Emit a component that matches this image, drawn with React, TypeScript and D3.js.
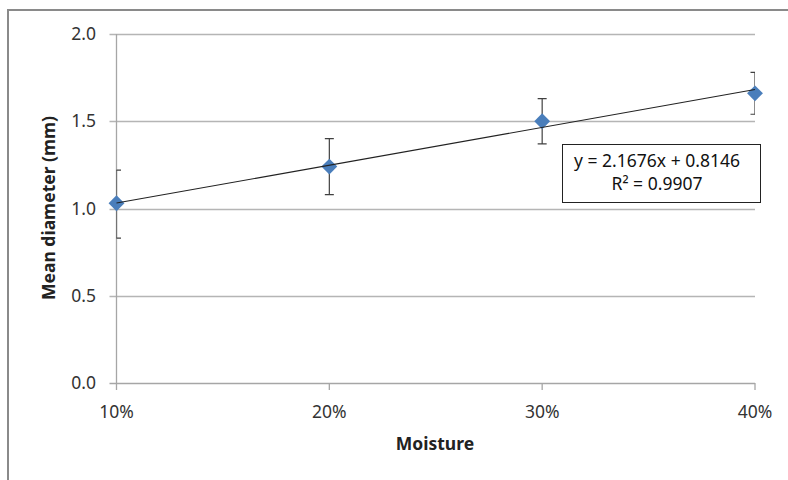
import React, { useEffect, useRef } from 'react';
import * as d3 from 'd3';

const MOISTURE = [0.1, 0.2, 0.3, 0.4];
const X_LABELS = ['10%', '20%', '30%', '40%'];
const MEAN_DIAMETER = [1.03, 1.24, 1.5, 1.66];
const ERR_PLUS = [0.19, 0.16, 0.13, 0.12];
const ERR_MINUS = [0.2, 0.16, 0.13, 0.12];
const Y_TICKS = [0, 0.5, 1.0, 1.5, 2.0];
const TREND_SLOPE = 2.1676;
const TREND_INTERCEPT = 0.8146;
const EQ_LINES = ['y = 2.1676x + 0.8146', 'R² = 0.9907'];

export default function App() {
    const svgRef = useRef<SVGSVGElement>(null);

    useEffect(() => {
        if (!svgRef.current) return;
        const svg = d3.select(svgRef.current);
        svg.selectAll('*').remove();

        const width = 788;
        const height = 480;
        const left = 116.5;
        const right = 755;
        const top = 34;
        const bottom = 383;
        const font = '"Noto Sans", sans-serif';

        const x = d3.scaleLinear().domain([0.1, 0.4]).range([left, right]);
        const y = d3.scaleLinear().domain([0, 2]).range([bottom, top]);

        svg.attr('viewBox', `0 0 ${width} ${height}`);

        svg.append('rect')
            .attr('width', width).attr('height', height)
            .attr('fill', '#fff');

        // outer chart frame (runs off the right and bottom)
        svg.append('rect')
            .attr('x', 8).attr('y', 10)
            .attr('width', 800).attr('height', 500)
            .attr('fill', 'none')
            .attr('stroke', '#8a8a8a')
            .attr('stroke-width', 2);

        svg.append('clipPath').attr('id', 'plot-clip')
            .append('rect')
            .attr('x', left).attr('y', top - 1)
            .attr('width', right - left).attr('height', bottom - top + 2);

        // gridlines + y ticks
        svg.append('g').selectAll('line')
            .data(Y_TICKS)
            .join('line')
            .attr('x1', left - 7).attr('x2', right)
            .attr('y1', d => Math.round(y(d)) + 0.5)
            .attr('y2', d => Math.round(y(d)) + 0.5)
            .attr('stroke', d => d === 0 ? '#a6a6a6' : '#b5b5b5')
            .attr('stroke-width', 1.3);

        // y axis line
        svg.append('line')
            .attr('x1', left).attr('x2', left)
            .attr('y1', top).attr('y2', bottom + 7)
            .attr('stroke', '#a6a6a6').attr('stroke-width', 1.3);

        // x ticks
        svg.append('g').selectAll('line')
            .data(MOISTURE.slice(1))
            .join('line')
            .attr('x1', d => x(d)).attr('x2', d => x(d))
            .attr('y1', bottom).attr('y2', bottom + 7)
            .attr('stroke', '#a6a6a6').attr('stroke-width', 1.3);

        svg.append('g').selectAll('text')
            .data(Y_TICKS)
            .join('text')
            .attr('x', 96)
            .attr('y', d => y(d))
            .attr('dy', '0.35em')
            .attr('text-anchor', 'end')
            .style('font-family', font)
            .style('font-size', '17.5px')
            .attr('fill', '#333')
            .text(d => d.toFixed(1));

        svg.append('g').selectAll('text')
            .data(MOISTURE)
            .join('text')
            .attr('x', d => x(d))
            .attr('y', 412)
            .attr('dy', '0.35em')
            .attr('text-anchor', 'middle')
            .style('font-family', font)
            .style('font-size', '17.5px')
            .attr('fill', '#333')
            .text((d, i) => X_LABELS[i]);

        // axis titles
        svg.append('text')
            .attr('transform', `translate(49,208) rotate(-90)`)
            .attr('dy', '0.35em')
            .attr('text-anchor', 'middle')
            .style('font-family', font)
            .style('font-size', '17.5px')
            .style('font-weight', 'bold')
            .attr('fill', '#222')
            .text('Mean diameter (mm)');

        svg.append('text')
            .attr('x', 435).attr('y', 444)
            .attr('dy', '0.35em')
            .attr('text-anchor', 'middle')
            .style('font-family', font)
            .style('font-size', '17.5px')
            .style('font-weight', 'bold')
            .attr('fill', '#222')
            .text('Moisture');

        // error bars, clipped to the plot area like Excel does
        const errG = svg.append('g').attr('clip-path', 'url(#plot-clip)');
        MOISTURE.forEach((m, i) => {
            const cx = x(m);
            const y1 = y(MEAN_DIAMETER[i] + ERR_PLUS[i]);
            const y2 = y(MEAN_DIAMETER[i] - ERR_MINUS[i]);
            errG.append('line')
                .attr('x1', cx).attr('x2', cx).attr('y1', y1).attr('y2', y2)
                .attr('stroke', '#404040').attr('stroke-width', 1.2);
            [y1, y2].forEach(yy => {
                errG.append('line')
                    .attr('x1', cx - 4.5).attr('x2', cx + 4.5)
                    .attr('y1', yy).attr('y2', yy)
                    .attr('stroke', '#404040').attr('stroke-width', 1.2);
            });
        });

        // markers
        const diamond = d3.symbol().type(d3.symbolDiamond2).size(160);
        svg.append('g').selectAll('path')
            .data(MEAN_DIAMETER)
            .join('path')
            .attr('d', diamond)
            .attr('transform', (d, i) => `translate(${x(MOISTURE[i])},${y(d)})`)
            .attr('fill', '#4a7ebb');

        // linear trendline
        const line = d3.line<number>()
            .x(d => x(d))
            .y(d => y(TREND_SLOPE * d + TREND_INTERCEPT));
        svg.append('path')
            .attr('d', line([MOISTURE[0], MOISTURE[MOISTURE.length - 1]]))
            .attr('fill', 'none')
            .attr('stroke', '#222')
            .attr('stroke-width', 1.1);

        // equation label
        svg.append('rect')
            .attr('x', 562.5).attr('y', 144.5)
            .attr('width', 198).attr('height', 58)
            .attr('fill', '#fff')
            .attr('stroke', '#222')
            .attr('stroke-width', 1);

        svg.append('g').selectAll('text')
            .data(EQ_LINES)
            .join('text')
            .attr('x', 657)
            .attr('y', (d, i) => 161 + i * 23)
            .attr('dy', '0.35em')
            .attr('text-anchor', 'middle')
            .style('font-family', font)
            .style('font-size', '17.5px')
            .attr('fill', '#111')
            .text(d => d);
    }, []);

    return (
        <svg
            ref={svgRef}
            width={788}
            height={480}
            style={{ position: 'absolute', left: 0, top: 0, display: 'block' }}
        />
    );
}
